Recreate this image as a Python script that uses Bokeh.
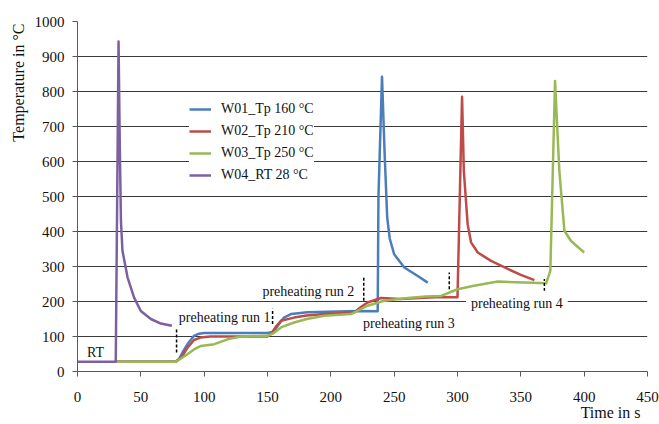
from bokeh.plotting import figure
from bokeh.models import Range1d, Label, Legend, LegendItem, Title
from bokeh.embed import file_html
from bokeh.resources import INLINE

# ---------------- data ----------------
x_ticks = [0, 50, 100, 150, 200, 250, 300, 350, 400, 450]
y_ticks = [0, 100, 200, 300, 400, 500, 600, 700, 800, 900, 1000]

series_names = ["W01_Tp 160 °C", "W02_Tp 210 °C", "W03_Tp 250 °C", "W04_RT 28 °C"]

w01_t = [30, 77.5, 80, 83, 87, 92, 96, 100, 150, 153, 155.3, 159, 163, 168.5, 181.7, 221, 237,
         237.6, 240.4, 242.5, 244.5, 246.5, 250, 258, 268.6, 276.5]
w01_y = [28, 28, 35, 55, 79, 102, 108, 110, 110, 112, 116, 135, 154, 164, 169, 173, 172,
         500, 842, 620, 440, 380, 335, 297, 273, 254]

w02_t = [30, 77.5, 82, 87, 92, 97, 105, 150, 153, 157, 160.6, 171, 181, 194.8, 218.5, 224, 229,
         239.6, 255, 273.8, 287, 296, 300, 303.6, 305, 308, 310.7, 316, 326.5, 339.7, 350, 360.7]
w02_y = [28, 28, 40, 69, 90, 97, 100, 100, 108, 130, 145, 154, 160, 164, 168.6, 185, 197,
         210, 207, 211, 213, 212, 212, 785, 573, 421, 369, 340, 316, 293, 276, 261]

w03_t = [30, 77.5, 82, 87, 92, 97.4, 108, 118.5, 129, 150, 155, 160.6, 171, 181, 194.8, 216, 222,
         229, 242, 260.6, 275, 287, 300, 313, 331.8, 352.8, 370, 373.3, 377, 380.4, 384.4, 389.6, 400]
w03_y = [28, 28, 38, 50, 63, 73, 78, 92, 100, 102, 110, 126, 140, 150, 159, 164, 175,
         188, 202, 210, 214, 216, 235, 245, 257, 254, 252, 288, 830, 573, 402, 373, 340]

w04_t = [0, 30.2, 31.3, 32.4, 33.4, 34.3, 35.5, 39.5, 44.7, 50, 57.9, 65.8, 74.5]
w04_y = [28, 28, 480, 943, 640, 430, 345, 269, 211, 173, 150, 137, 131]

series_colors = ["#4A7EBB", "#BE4B48", "#98B954", "#7D60A0"]

# preheating markers (time, lower, upper)
mark_t = [78.2, 154, 226, 293.5, 368.6]
mark_lo = [54, 136, 202, 235, 216]
mark_hi = [126, 179, 269, 283, 264]

# annotations
note_text = ["RT", "preheating run 1", "preheating run 2", "preheating run 3", "preheating run 4"]
note_x = [7.5, 80, 146, 225.4, 306.7]
note_y = [54, 154, 228, 137, 195]

x_title = "Time in s"
y_title = "Temperature in °C"

FONT = "'Liberation Serif'"

p = figure(width=659, height=424, x_range=Range1d(0, 450), y_range=Range1d(0, 1000),
           output_backend="svg", toolbar_location=None,
           min_border_left=77, min_border_right=12, min_border_top=21, min_border_bottom=53)
p.outline_line_color = None
p.background_fill_color = "white"
p.border_fill_color = "white"
p.xgrid.visible = False
p.xaxis.ticker = x_ticks
p.yaxis.ticker = y_ticks
p.ygrid.grid_line_color = "#3a3a3a"
p.ygrid.grid_line_width = 1

for ax in (p.xaxis[0], p.yaxis[0]):
    ax.axis_line_color = "#595959"
    ax.major_tick_line_color = "#595959"
    ax.major_tick_in = 0
    ax.major_tick_out = 5
    ax.minor_tick_line_color = None
    ax.major_label_text_font = FONT
    ax.major_label_text_font_style = "normal"
    ax.major_label_text_font_size = "15px"
    ax.major_label_text_color = "#111111"
p.xaxis.major_label_standoff = 15
p.yaxis.major_label_standoff = 8

renderers = []
for t, y, c in zip([w01_t, w02_t, w03_t, w04_t], [w01_y, w02_y, w03_y, w04_y], series_colors):
    r = p.line(t, y, line_color=c, line_width=2.5, line_join="round")
    renderers.append(r)

p.segment(x0=mark_t, y0=mark_lo, x1=mark_t, y1=mark_hi, line_color="black",
          line_width=1.5, line_dash="3 2")

for txt, x, y in zip(note_text, note_x, note_y):
    kw = {}
    if txt == "preheating run 4":
        kw = dict(background_fill_color="white", padding=5)
    lab = Label(x=x, y=y, text=txt, text_font=FONT, text_font_size="14px",
                text_font_style="normal",
                text_baseline="middle", text_align="left", text_color="#111111", **kw)
    p.add_layout(lab)

legend = Legend(items=[LegendItem(label=n, renderers=[r]) for n, r in zip(series_names, renderers)],
                location=(112, 186), label_text_font=FONT, label_text_font_size="14px",
                label_text_font_style="normal", label_text_color="#111111",
                glyph_width=22, glyph_height=20, label_height=20, spacing=2, padding=7,
                label_standoff=10, label_width=90, border_line_color=None,
                background_fill_color="white", background_fill_alpha=1.0, margin=0)
p.add_layout(legend)

ytitle = Title(text=y_title, align="right", offset=2, text_font=FONT,
               text_font_size="16px", text_font_style="normal", text_color="#111111")
p.add_layout(ytitle, "left")
xtitle = Title(text=x_title, align="right", offset=7, standoff=-3, vertical_align="middle",
               text_font=FONT, text_font_size="16px", text_font_style="normal",
               text_color="#111111")
p.add_layout(xtitle, "below")

open("out.html", "w").write(file_html(p, INLINE))
